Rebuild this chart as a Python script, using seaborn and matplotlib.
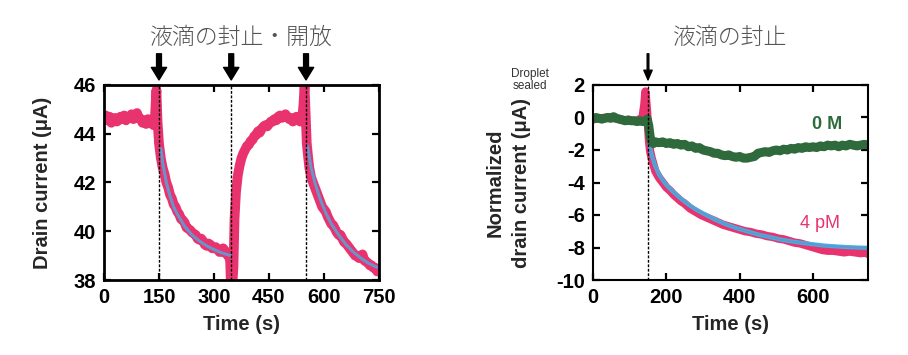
import numpy as np
import pandas as pd
import seaborn as sns
import matplotlib.pyplot as plt

# left panel: repeated sealing / opening
t_left = [0, 5, 10, 15, 20, 25, 30, 35, 40, 45, 50, 55, 60, 65, 70, 75, 80, 85, 90, 95, 100,
          105, 110, 115, 120, 125, 130, 135, 138, 140, 143, 146,
          150, 155, 160, 165, 170, 175, 180, 185, 190, 195, 200, 205, 210, 215, 220, 225, 230,
          235, 240, 245, 250, 255, 260, 265, 270, 275, 280, 285, 290, 295, 300, 305, 310, 315,
          320, 325, 330, 335, 340, 344, 346, 350, 353, 356, 360, 365, 370, 375, 380, 385, 390,
          395, 400, 405, 410, 415, 420, 425, 430, 435, 440, 445, 450, 455, 460, 465, 470, 475,
          480, 485, 490, 495, 500, 505, 510, 515, 520, 525, 530, 535, 540, 544,
          547, 550, 553, 557, 560, 565, 570, 575, 580, 585, 590, 595, 600, 605, 610, 615, 620,
          625, 630, 635, 640, 645, 650, 655, 660, 665, 670, 675, 680, 685, 690, 695, 700, 705,
          710, 715, 720, 725, 730, 735, 740, 745, 750]
i_left = [44.6, 44.75, 44.55, 44.7, 44.45, 44.6, 44.65, 44.5, 44.55, 44.7, 44.6, 44.75, 44.55,
          44.7, 44.65, 44.8, 44.6, 44.7, 44.85, 44.65, 44.6, 44.45, 44.55, 44.4, 44.6, 44.45,
          44.5, 44.35, 44.4, 45.0, 45.8, 44.5,
          43.6, 43.0, 42.6, 42.35, 42.0, 41.8, 41.5, 41.35, 41.1, 41.0, 40.8, 40.7, 40.5, 40.45,
          40.35, 40.15, 40.1, 40.05, 39.95, 39.9, 39.85, 39.7, 39.65, 39.7, 39.6, 39.45, 39.4,
          39.5, 39.45, 39.3, 39.3, 39.35, 39.25, 39.15, 39.15, 39.3, 39.2, 39.05, 39.0, 38.8,
          37.8, 37.8, 38.5, 40.5, 41.6, 42.3, 42.7, 43.0, 43.2, 43.35, 43.5, 43.55, 43.7, 43.75,
          43.9, 43.95, 44.1, 44.05, 44.2, 44.3, 44.35, 44.3, 44.4, 44.5, 44.5, 44.6, 44.55,
          44.7, 44.75, 44.65, 44.75, 44.8, 44.7, 44.6, 44.65, 44.5, 44.55, 44.7, 44.6, 44.5,
          44.55, 45.2, 46.0, 44.8, 43.6, 43.0, 42.6, 42.2, 42.0, 41.8, 41.6, 41.4, 41.2, 41.0,
          40.9, 40.8, 40.6, 40.45, 40.3, 40.25, 40.1, 39.95, 39.85, 39.85, 39.7, 39.55, 39.5,
          39.4, 39.3, 39.2, 39.1, 39.0, 39.0, 38.9, 39.0, 39.05, 38.8, 38.75, 38.7, 38.6, 38.6,
          38.5, 38.5, 38.35, 38.4]
fit1_t = [155, 160, 170, 180, 190, 200, 220, 240, 260, 280, 300, 320, 345]
fit1_i = [43.4, 42.8, 42.0, 41.45, 41.0, 40.7, 40.2, 39.85, 39.6, 39.4, 39.25, 39.12, 39.0]
fit2_t = [555, 565, 575, 590, 605, 620, 640, 660, 680, 700, 720, 740, 750]
fit2_i = [43.5, 42.6, 42.0, 41.3, 40.75, 40.3, 39.85, 39.45, 39.15, 38.9, 38.7, 38.55, 38.5]
events_left = [150, 347, 551]

# right panel: normalized current, 4 pM vs 0 M
t_4pm = [0, 20, 40, 60, 80, 100, 120, 135, 140, 143, 147, 150, 153, 156, 160, 165, 170, 180,
         190, 200, 210, 220, 230, 240, 250, 265, 280, 295, 310, 325, 340, 355, 370, 385, 400,
         415, 430, 445, 460, 475, 490, 505, 520, 535, 550, 565, 580, 595, 610, 625, 640, 655,
         670, 685, 700, 715, 730, 745, 750]
i_4pm = [-0.1, -0.05, 0.0, -0.05, -0.15, -0.2, -0.2, 0.0, 0.8, 1.6, 0.5, -0.5, -1.5, -2.1,
         -2.5, -2.9, -3.3, -3.7, -4.0, -4.3, -4.5, -4.75, -4.95, -5.15, -5.3, -5.6, -5.8, -6.0,
         -6.15, -6.3, -6.45, -6.6, -6.7, -6.8, -6.9, -7.0, -7.05, -7.15, -7.2, -7.3, -7.35,
         -7.45, -7.5, -7.6, -7.7, -7.75, -7.85, -7.95, -8.05, -8.15, -8.2, -8.2, -8.25, -8.3,
         -8.25, -8.3, -8.35, -8.3, -8.4]
fit3_t = [150, 155, 160, 170, 180, 190, 200, 220, 240, 260, 280, 300, 330, 360, 390, 420,
          450, 480, 510, 540, 570, 600, 630, 660, 690, 720, 750]
fit3_i = [-1.0, -1.8, -2.3, -3.0, -3.5, -3.85, -4.15, -4.6, -5.0, -5.35, -5.65, -5.9, -6.25,
          -6.55, -6.8, -7.0, -7.2, -7.35, -7.5, -7.62, -7.72, -7.8, -7.88, -7.93, -7.97, -8.0,
          -8.02]
t_0m = [0, 8, 16, 24, 32, 40, 48, 56, 64, 72, 80, 88, 96, 104, 112, 120, 128, 136, 144, 148,
        152, 156, 160, 165, 170, 180, 190, 200, 210, 220, 230, 240, 250, 260, 270, 280, 290,
        300, 310, 320, 330, 340, 350, 360, 370, 380, 390, 400, 410, 420, 430, 440, 450, 460,
        470, 480, 490, 500, 510, 520, 530, 540, 550, 560, 570, 580, 590, 600, 610, 620, 630,
        640, 650, 660, 670, 680, 690, 700, 710, 720, 730, 740, 750]
i_0m = [-0.1, 0.0, -0.05, -0.1, -0.05, 0.0, -0.05, 0.05, -0.05, -0.1, -0.15, -0.2, -0.15,
        -0.2, -0.2, -0.25, -0.2, -0.25, -0.2, -0.1, -0.5, -1.2, -1.5, -1.6, -1.5, -1.55, -1.5,
        -1.6, -1.55, -1.65, -1.6, -1.7, -1.65, -1.8, -1.75, -1.9, -1.85, -2.0, -2.05, -2.1,
        -2.2, -2.2, -2.3, -2.35, -2.3, -2.4, -2.45, -2.4, -2.5, -2.5, -2.45, -2.4, -2.2, -2.15,
        -2.1, -2.15, -2.05, -2.0, -2.05, -1.95, -2.0, -1.9, -1.95, -1.85, -1.9, -1.8, -1.85,
        -1.8, -1.85, -1.75, -1.8, -1.7, -1.75, -1.7, -1.8, -1.7, -1.75, -1.65, -1.7, -1.75,
        -1.7, -1.65, -1.7]
events_right = [150]

pink = '#E8336F'
green = '#2F6A3C'
fitblue = '#6A93C9'
cyan = '#39B5E6'

sns.set_theme(style='ticks')
plt.rcParams['font.family'] = ['Liberation Sans', 'Noto Sans CJK JP']
plt.rcParams['font.weight'] = 'bold'
plt.rcParams['axes.unicode_minus'] = False

fig = plt.figure(figsize=(9.08, 3.55), dpi=100)
ax1 = fig.add_axes([104/908, 75/355, 275/908, 195/355])
ax2 = fig.add_axes([593/908, 75/355, 275/908, 195/355])

sns.lineplot(x=t_left, y=i_left, ax=ax1, color=pink, lw=7, estimator=None)
sns.lineplot(x=fit1_t, y=fit1_i, ax=ax1, color=fitblue, lw=2.2, estimator=None)
sns.lineplot(x=fit2_t, y=fit2_i, ax=ax1, color=fitblue, lw=2.2, estimator=None)
for ev in events_left:
    ax1.axvline(ev, color='black', lw=1, ls=(0, (2, 1.2)))
    ax1.annotate('', xy=(ev, 1.026), xycoords=('data', 'axes fraction'),
                 xytext=(ev, 1.16), textcoords=('data', 'axes fraction'),
                 arrowprops=dict(facecolor='black', edgecolor='black', width=3.5,
                                 headwidth=11, headlength=9, shrink=0))
ax1.set_xlim(0, 750)
ax1.set_ylim(38, 46)
ax1.set_xticks([0, 150, 300, 450, 600, 750])
ax1.set_yticks([38, 40, 42, 44, 46])
ax1.set_xlabel('Time (s)', fontsize=14.5, fontweight='bold')
ax1.set_ylabel('Drain current (μA)', fontsize=14.5, fontweight='bold')
ax1.xaxis.set_label_coords(0.5, -0.18)
ax1.yaxis.set_label_coords(-0.19, 0.5)
ax1.text(0.5, 1.245, '液滴の封止・開放', transform=ax1.transAxes, ha='center', va='center',
         fontsize=16.5, color='#555555', fontweight='light', family=['Noto Sans CJK JP'])

sns.lineplot(x=t_4pm, y=i_4pm, ax=ax2, color=pink, lw=6, estimator=None)
sns.lineplot(x=fit3_t, y=fit3_i, ax=ax2, color=cyan, lw=3, estimator=None)
sns.lineplot(x=fit3_t, y=fit3_i, ax=ax2, color=fitblue, lw=1.3, estimator=None)
sns.lineplot(x=t_0m, y=i_0m, ax=ax2, color=green, lw=6.5, estimator=None)
for ev in events_right:
    ax2.axvline(ev, color='black', lw=1, ls=(0, (2, 1.2)))
    ax2.annotate('', xy=(ev, 1.026), xycoords=('data', 'axes fraction'),
                 xytext=(ev, 1.16), textcoords=('data', 'axes fraction'),
                 arrowprops=dict(facecolor='black', edgecolor='black', width=1.2,
                                 headwidth=6, headlength=7, shrink=0))
ax2.set_xlim(0, 750)
ax2.set_ylim(-10, 2)
ax2.set_xticks([0, 200, 400, 600])
ax2.set_yticks([2, 0, -2, -4, -6, -8, -10])
ax2.set_xlabel('Time (s)', fontsize=14.5, fontweight='bold')
ax2.set_ylabel('Normalized\ndrain current (μA)', fontsize=14.5, fontweight='bold',
               linespacing=1.55)
ax2.xaxis.set_label_coords(0.5, -0.18)
ax2.yaxis.set_label_coords(-0.224, 0.5)
ax2.text(638, -0.45, '0 M', color=green, fontsize=13, fontweight='bold', ha='center', va='center')
ax2.text(620, -6.5, '4 pM', color=pink, fontsize=13, fontweight='normal', ha='center', va='center')
ax2.text(0.5, 1.245, '液滴の封止', transform=ax2.transAxes, ha='center', va='center',
         fontsize=16.5, color='#555555', fontweight='light', family=['Noto Sans CJK JP'])
fig.text(530/908, 1 - 80/355, 'Droplet\nsealed', ha='center', va='center', fontsize=8.5,
         color='#333333', fontweight='normal', linespacing=1.1)

for ax, sw in [(ax1, 2.0), (ax2, 1.5)]:
    for s in ax.spines.values():
        s.set_visible(True)
        s.set_linewidth(sw)
        s.set_color('black')
    ax.tick_params(direction='in', top=True, right=True, length=5, width=1.6,
                   labelsize=14.5, colors='black', pad=6)
    for lab in ax.get_xticklabels() + ax.get_yticklabels():
        lab.set_fontweight('bold')
    ax.set_facecolor('white')

fig.savefig('out.png', dpi=100, facecolor='white')
